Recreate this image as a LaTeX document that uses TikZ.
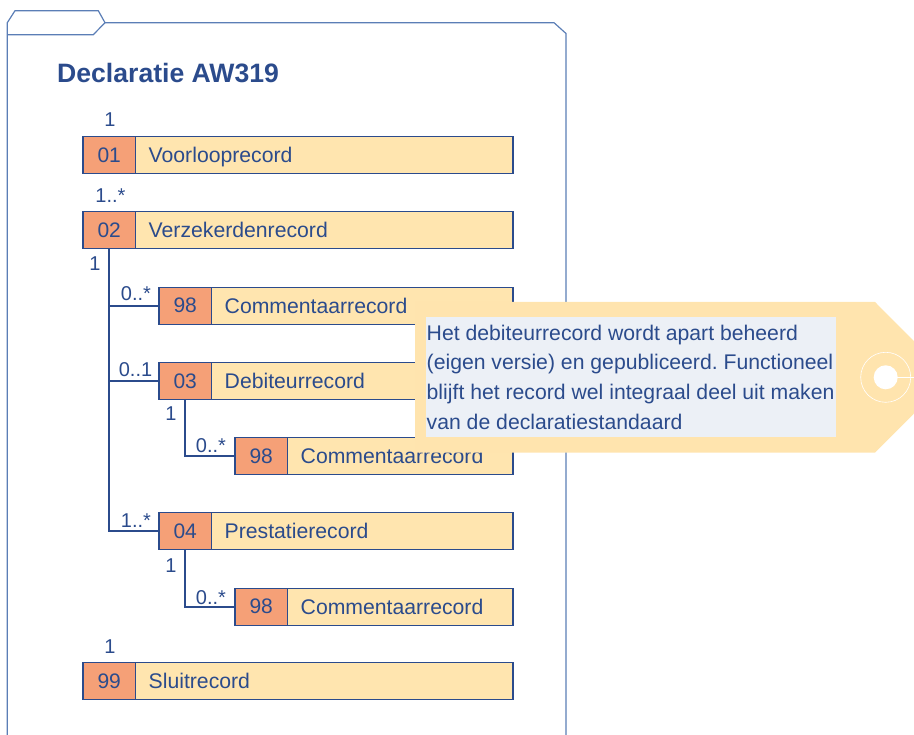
\documentclass[tikz,border=0pt]{standalone}
\usepackage{fontspec}
\setmainfont{Liberation Sans}
\frenchspacing
\definecolor{dkblue}{HTML}{2B4B8C}
\definecolor{lineblue}{HTML}{5B7EB6}
\definecolor{salmon}{HTML}{F5A077}
\definecolor{cream}{HTML}{FFE5AF}
\definecolor{tagcol}{HTML}{FFE4AE}
\definecolor{notebg}{HTML}{ECF0F6}
\tikzset{
  body/.style={draw=dkblue, fill=cream, line width=1.1pt, minimum height=37pt, inner sep=0pt, outer sep=0pt, anchor=north west},
  numbox/.style={draw=dkblue, fill=salmon, line width=1.1pt, minimum height=37pt, minimum width=52.5pt, inner sep=0pt, outer sep=0pt, anchor=north west, text=dkblue, font=\fontsize{21}{25}\selectfont},
  rectext/.style={text=dkblue, font=\fontsize{21.2}{25}\selectfont, inner sep=0pt, anchor=base west},
  mult/.style={text=dkblue, font=\fontsize{20}{24}\selectfont, inner sep=0pt, anchor=base},
  conn/.style={draw=dkblue, line width=2.3pt},
  folder/.style={draw=lineblue, line width=1.2pt, line join=miter},
  tagshape/.style={fill=tagcol, draw=none},
  notebox/.style={fill=notebg, draw=none, inner sep=0pt, anchor=north west},
  notetext/.style={text=dkblue, font=\fontsize{21.2}{29.7}\selectfont, inner sep=0pt, anchor=north west, align=left},
  titletext/.style={text=dkblue, font=\fontsize{26.6}{30}\selectfont\bfseries, inner sep=0pt, anchor=base west},
}
\newcommand\rec[6]{%
  \node[body, minimum width=#4] (#1) at (#2,#3) {};
  \node[numbox] (#1n) at (#2,#3) {#5};
  \node[rectext] (#1t) at ([xshift=13pt,yshift=-7.6pt]#1n.east) {#6};
}
\begin{document}
\begin{tikzpicture}[x=1pt,y=-1pt]
\useasboundingbox (0,0) rectangle (914,735);
\clip (0,0) rectangle (914,735);
% folder
\draw[folder] (7.3,745) -- (7.3,22.7) -- (15,10.7) -- (98.3,10.7) -- (105,22.7) -- (554,22.7) -- (566,33.5) -- (566,745);
\draw[folder] (7.3,34.7) -- (93.3,34.7) -- (105,22.7);
\node[titletext] (title) at (57,83) {Declaratie AW319};
% records
\rec{r01}{83}{136.5}{430pt}{01}{Voorlooprecord}
\rec{r02}{83}{211.7}{430pt}{02}{Verzekerdenrecord}
\rec{r98a}{159}{287.2}{354pt}{98}{Commentaarrecord}
\rec{r03}{159}{362.5}{354pt}{03}{Debiteurrecord}
\rec{r98b}{235}{437.7}{278pt}{98}{Commentaarrecord}
\rec{r04}{159}{512.8}{354pt}{04}{Prestatierecord}
\rec{r98c}{235}{588.2}{278pt}{98}{Commentaarrecord}
\rec{r99}{83}{662.5}{430pt}{99}{Sluitrecord}
% connectors
\draw[conn] (r02n.south) -- (r02n.south |- r04n.west) -- (r04n.west);
\draw[conn] (r02n.south |- r98an.west) -- (r98an.west);
\draw[conn] (r02n.south |- r03n.west) -- (r03n.west);
\draw[conn] (r03n.south) -- (r03n.south |- r98bn.west) -- (r98bn.west);
\draw[conn] (r04n.south) -- (r04n.south |- r98cn.west) -- (r98cn.west);
% multiplicities
\node[mult] (m01) at (110,127) {1};
\node[mult] (m02) at (110.5,203) {1..*};
\node[mult] (m02b) at (95,271) {1};
\node[mult] (m98a) at (136,301) {0..*};
\node[mult] (m03) at (135.5,377) {0..1};
\node[mult] (m03b) at (171,421) {1};
\node[mult] (m98b) at (211,453) {0..*};
\node[mult] (m04) at (136,528) {1..*};
\node[mult] (m04b) at (171,572) {1};
\node[mult] (m98c) at (211,604) {0..*};
\node[mult] (m99) at (110,653) {1};
% tag
\path[tagshape] (415,302) -- (875,302) -- (950,377.3) -- (875,452.7) -- (415,452.7) -- cycle;
\node[notebox, minimum width=410pt, minimum height=120pt] (note) at (426,317) {};
\node[notetext] (notet) at (426.5,324.7) {Het debiteurrecord wordt apart beheerd\\(eigen versie) en gepubliceerd. Functioneel\\blijft het record wel integraal deel uit maken\\van de declaratiestandaard};
\draw[white, line width=0.6pt] (885.7,377.3) circle[radius=25];
\draw[white, line width=0.6pt] (897,377.3) -- (920,377.3);
\fill[white] (885.7,377.3) circle[radius=12];
\end{tikzpicture}
\end{document}
